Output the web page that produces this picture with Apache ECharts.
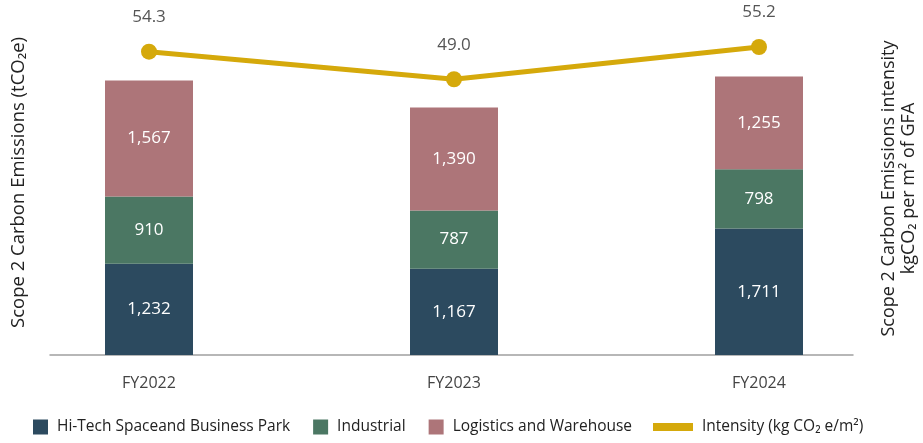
<!DOCTYPE html>
<html>
<head>
<meta charset="utf-8">
<script src="https://cdn.jsdelivr.net/npm/echarts@6/dist/echarts.min.js"></script>
<style>
  html, body { margin: 0; padding: 0; background: #ffffff; }
  #chart { width: 923px; height: 443px; }
</style>
</head>
<body>
<div id="chart"></div>
<script>
// Scope 2 carbon emissions by segment (tCO2e) and intensity (kgCO2/m2 GFA)
const categories = ['FY2022', 'FY2023', 'FY2024'];
const hiTech = [1232, 1167, 1711];
const industrial = [910, 787, 798];
const logistics = [1567, 1390, 1255];
const intensity = [54.3, 49.0, 55.2];

const FONT = '"Open Sans", "Noto Sans", sans-serif';
const COLORS = {
  hiTech: '#2c4a5f',
  industrial: '#4b7763',
  logistics: '#ad7579',
  intensity: '#d5a90b'
};

const thousands = p => Number(p.value).toLocaleString('en-US');

const barLabel = {
  show: true,
  position: 'inside',
  color: '#ffffff',
  fontFamily: FONT,
  fontSize: 17,
  formatter: thousands
};

function barSeries(name, values, color) {
  return {
    name: name,
    type: 'bar',
    stack: 'emissions',
    barWidth: 88,
    xAxisIndex: 0,
    yAxisIndex: 0,
    data: values,
    itemStyle: { color: color },
    label: barLabel,
    emphasis: { disabled: true }
  };
}

// Axes used only for the baseline and the two axis titles
const frameAxis = {
  axisLine: { show: false },
  axisTick: { show: false },
  axisLabel: { show: false },
  splitLine: { show: false }
};

const legendText = {
  fontFamily: FONT,
  fontSize: 15.5,
  color: '#222222',
  padding: [0, 0, 0, 4]
};

const chart = echarts.init(document.getElementById('chart'), null, { renderer: 'canvas' });

chart.setOption({
  animation: false,
  textStyle: { fontFamily: FONT },
  grid: [
    // plotting area: three equal category bands
    { left: -3.5, right: 11.5, top: 22, bottom: 88, outerBoundsMode: 'none' },
    // frame: baseline and axis titles
    { left: 50, right: 70, top: 22, bottom: 88, outerBoundsMode: 'none' }
  ],
  legend: [
    {
      data: ['Hi-Tech Spaceand Business Park', 'Industrial', 'Logistics and Warehouse'],
      left: 33,
      top: 419,
      padding: 0,
      itemWidth: 15,
      itemHeight: 15,
      itemGap: 23,
      icon: 'rect',
      textStyle: legendText
    },
    {
      data: ['Intensity (kg CO\u2082 e/m\u00b2)'],
      left: 653,
      top: 419,
      padding: 0,
      itemWidth: 40,
      itemHeight: 8,
      icon: 'rect',
      textStyle: legendText
    }
  ],
  xAxis: [
    {
      type: 'category',
      gridIndex: 0,
      data: categories,
      axisLine: { show: false },
      axisTick: { show: false },
      splitLine: { show: false },
      axisLabel: {
        color: '#444444',
        fontFamily: FONT,
        fontSize: 16,
        margin: 20
      }
    },
    Object.assign({}, frameAxis, {
      type: 'value',
      gridIndex: 1,
      min: 0,
      max: 1,
      axisLine: { show: true, lineStyle: { color: '#a0a0a0', width: 1.5 } }
    })
  ],
  yAxis: [
    { type: 'value', gridIndex: 0, min: 0, max: 4500, show: false },
    { type: 'value', gridIndex: 0, min: -4, max: 60, position: 'right', show: false },
    Object.assign({}, frameAxis, {
      type: 'value',
      gridIndex: 1,
      min: 0,
      max: 1,
      position: 'left',
      name: 'Scope 2 Carbon Emissions (tCO\u2082e)',
      nameLocation: 'middle',
      nameRotate: 90,
      nameGap: 22,
      nameTextStyle: {
        fontFamily: FONT,
        fontSize: 18.5,
        color: '#222222',
        padding: [0, 0, 0, 12]
      }
    }),
    Object.assign({}, frameAxis, {
      type: 'value',
      gridIndex: 1,
      min: 0,
      max: 1,
      position: 'right',
      name: 'Scope 2 Carbon Emissions intensity\nkgCO\u2082 per m\u00b2 of GFA',
      nameLocation: 'middle',
      nameRotate: 90,
      nameGap: 26,
      nameTextStyle: { fontFamily: FONT, fontSize: 18, color: '#222222', lineHeight: 20 }
    })
  ],
  series: [
    barSeries('Hi-Tech Spaceand Business Park', hiTech, COLORS.hiTech),
    barSeries('Industrial', industrial, COLORS.industrial),
    barSeries('Logistics and Warehouse', logistics, COLORS.logistics),
    {
      name: 'Intensity (kg CO\u2082 e/m\u00b2)',
      type: 'line',
      xAxisIndex: 0,
      yAxisIndex: 1,
      data: intensity,
      symbol: 'circle',
      symbolSize: 16,
      color: COLORS.intensity,
      lineStyle: { color: COLORS.intensity, width: 5 },
      itemStyle: { color: COLORS.intensity },
      label: {
        show: true,
        position: 'top',
        distance: 18,
        color: '#555555',
        fontFamily: FONT,
        fontSize: 17,
        formatter: p => Number(p.value).toFixed(1)
      },
      emphasis: { disabled: true },
      z: 5
    }
  ]
});
</script>
</body>
</html>
